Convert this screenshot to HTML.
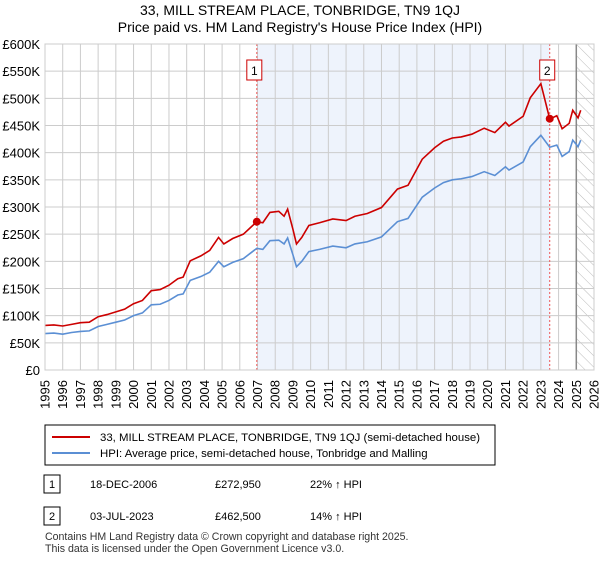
<!DOCTYPE html>
<html><head><meta charset="utf-8"><style>
body{margin:0;background:#fff;font-family:"Liberation Sans",sans-serif;}
svg text{font-family:"Liberation Sans",sans-serif;}
</style></head><body>
<svg id="c" width="600" height="560" xmlns="http://www.w3.org/2000/svg">
<defs><pattern id="h" width="8" height="8" patternUnits="userSpaceOnUse" patternTransform="rotate(-45)"><line x1="0" y1="0" x2="0" y2="8" stroke="#bbb" stroke-width="1"/></pattern></defs>
<text x="300" y="15" text-anchor="middle" font-size="14">33, MILL STREAM PLACE, TONBRIDGE, TN9 1QJ</text>
<text x="300" y="32" text-anchor="middle" font-size="14">Price paid vs. HM Land Registry's House Price Index (HPI)</text>
<g id="plot"></g>
<rect x="45" y="425" width="450" height="40" fill="#fff" stroke="#000"/>
<line x1="52" y1="437" x2="90" y2="437" stroke="#cc0000" stroke-width="2"/>
<text x="100" y="441" font-size="11.4">33, MILL STREAM PLACE, TONBRIDGE, TN9 1QJ (semi-detached house)</text>
<line x1="52" y1="453" x2="90" y2="453" stroke="#5b8fd4" stroke-width="2"/>
<text x="100" y="457" font-size="11.4">HPI: Average price, semi-detached house, Tonbridge and Malling</text>
<rect x="44" y="475" width="16" height="18" fill="#fff" stroke="#000"/>
<text x="52" y="488" font-size="11" text-anchor="middle">1</text>
<text x="90" y="488" font-size="11">18-DEC-2006</text>
<text x="215" y="488" font-size="11">£272,950</text>
<text x="310" y="488" font-size="11">22% ↑ HPI</text>
<rect x="44" y="507" width="16" height="18" fill="#fff" stroke="#000"/>
<text x="52" y="520" font-size="11" text-anchor="middle">2</text>
<text x="90" y="520" font-size="11">03-JUL-2023</text>
<text x="215" y="520" font-size="11">£462,500</text>
<text x="310" y="520" font-size="11">14% ↑ HPI</text>
<text x="45" y="540" font-size="10.6" fill="#333">Contains HM Land Registry data © Crown copyright and database right 2025.</text>
<text x="45" y="552" font-size="10.6" fill="#333">This data is licensed under the Open Government Licence v3.0.</text>
</svg>
<script>
const hpiYears=[1995,1995.5,1996,1996.5,1997,1997.5,1998,1998.5,1999,1999.5,2000,2000.5,2001,2001.5,2002,2002.5,2002.8,2003.2,2003.8,2004.3,2004.8,2005.1,2005.6,2006.2,2006.6,2006.96,2007.3,2007.7,2008.2,2008.5,2008.7,2009.0,2009.2,2009.5,2009.9,2010.5,2011.25,2012,2012.5,2013.2,2014,2014.9,2015.5,2016.3,2017,2017.5,2018,2018.5,2019.1,2019.8,2020.4,2021,2021.2,2022,2022.4,2023,2023.5,2023.9,2024.2,2024.6,2024.8,2025.1,2025.25];
const hpiValues=[67,68,66,69,71,72,80,84,88,92,100,105,120,121,128,138,140,165,172,180,200,190,198,205,215,224,222,238,239,232,243,212,190,200,218,222,228,225,232,236,245,273,279,318,335,345,350,352,356,365,358,374,368,383,411,432,410,414,393,402,423,411,423];
const priceValues=[82,83,81,84,87,88,98,102,107,112,122,128,146,148,156,168,171,201,210,220,244,232,242,250,262,273,271,290,292,283,296,259,232,244,266,271,278,275,283,288,299,333,340,388,409,421,427,429,434,445,437,456,449,467,501,527,462,468,444,454,478,464,478];
const saleYears=[2006.96,2023.5];
const saleValues=[272.95,462.5];
const saleLabels=["1","2"];
const yTicks=[0,50,100,150,200,250,300,350,400,450,500,550,600];
const xTicks=[1995,1996,1997,1998,1999,2000,2001,2002,2003,2004,2005,2006,2007,2008,2009,2010,2011,2012,2013,2014,2015,2016,2017,2018,2019,2020,2021,2022,2023,2024,2025,2026];
const X0=45,X1=594,Y0=370,Y1=44;
const xs=y=>X0+(y-1995)/(2026-1995)*(X1-X0);
const ys=v=>Y0-v/600*(Y0-Y1);
const NS="http://www.w3.org/2000/svg";
const g=document.getElementById('plot');
function mk(t,a){const e=document.createElementNS(NS,t);for(const k in a)e.setAttribute(k,a[k]);g.appendChild(e);return e;}
const bg=mk('rect',{x:X0,y:Y1,width:X1-X0,height:Y0-Y1,fill:'#fff'});


const sh=mk('rect',{x:xs(saleYears[0]),y:Y1,width:xs(saleYears[1])-xs(saleYears[0]),height:Y0-Y1,fill:'#eef3fc'});


const ht=mk('rect',{x:xs(2025),y:Y1,width:X1-xs(2025),height:Y0-Y1,fill:'url(#h)'});


yTicks.forEach(t=>{
 const l=mk('line',{x1:X0,x2:X1,y1:ys(t),y2:ys(t),stroke:'#ccc'});
 
 
 const tx=mk('text',{x:40,y:ys(t)+5,'text-anchor':'end','font-size':13});
 tx.textContent=t===0?'£0':'£'+t+'K';
 
 
});
xTicks.forEach(t=>{
 const l=mk('line',{x1:xs(t),x2:xs(t),y1:Y1,y2:Y0,stroke:'#ccc'});
 
 
 const tx=mk('text',{transform:'translate('+(xs(t)+4.5)+',380) rotate(-90)','text-anchor':'end','font-size':13});
 tx.textContent=t;
 
 
});
const vl=mk('line',{x1:xs(2025),x2:xs(2025),y1:Y1,y2:Y0,stroke:'#888','stroke-width':1.5});


saleYears.forEach((s,i)=>{
 const l=mk('line',{x1:xs(s),x2:xs(s),y1:Y1,y2:Y0,stroke:'#e55','stroke-dasharray':'2,2'});
 
 
 const b=mk('rect',{x:xs(s)-10,y:60,width:15,height:20,fill:'#fff',stroke:'#cc0000'});
 
 
 const tx=mk('text',{x:xs(s)-2.5,y:75,'text-anchor':'middle','font-size':12});
 tx.textContent=saleLabels[i];
 
 
});
const hp=mk('polyline',{points:hpiYears.map((y,i)=>xs(y)+','+ys(hpiValues[i])).join(' '),fill:'none',stroke:'#5b8fd4','stroke-width':1.6});


const pp=mk('polyline',{points:hpiYears.map((y,i)=>xs(y)+','+ys(priceValues[i])).join(' '),fill:'none',stroke:'#cc0000','stroke-width':1.6});


saleYears.forEach((s,i)=>{
 const c=mk('circle',{cx:xs(s),cy:ys(saleValues[i]),r:4,fill:'#cc0000'});
 
 
});
const fr=mk('rect',{x:X0,y:Y1,width:X1-X0,height:Y0-Y1,fill:'none',stroke:'#ccc'});


</script>
</body></html>
